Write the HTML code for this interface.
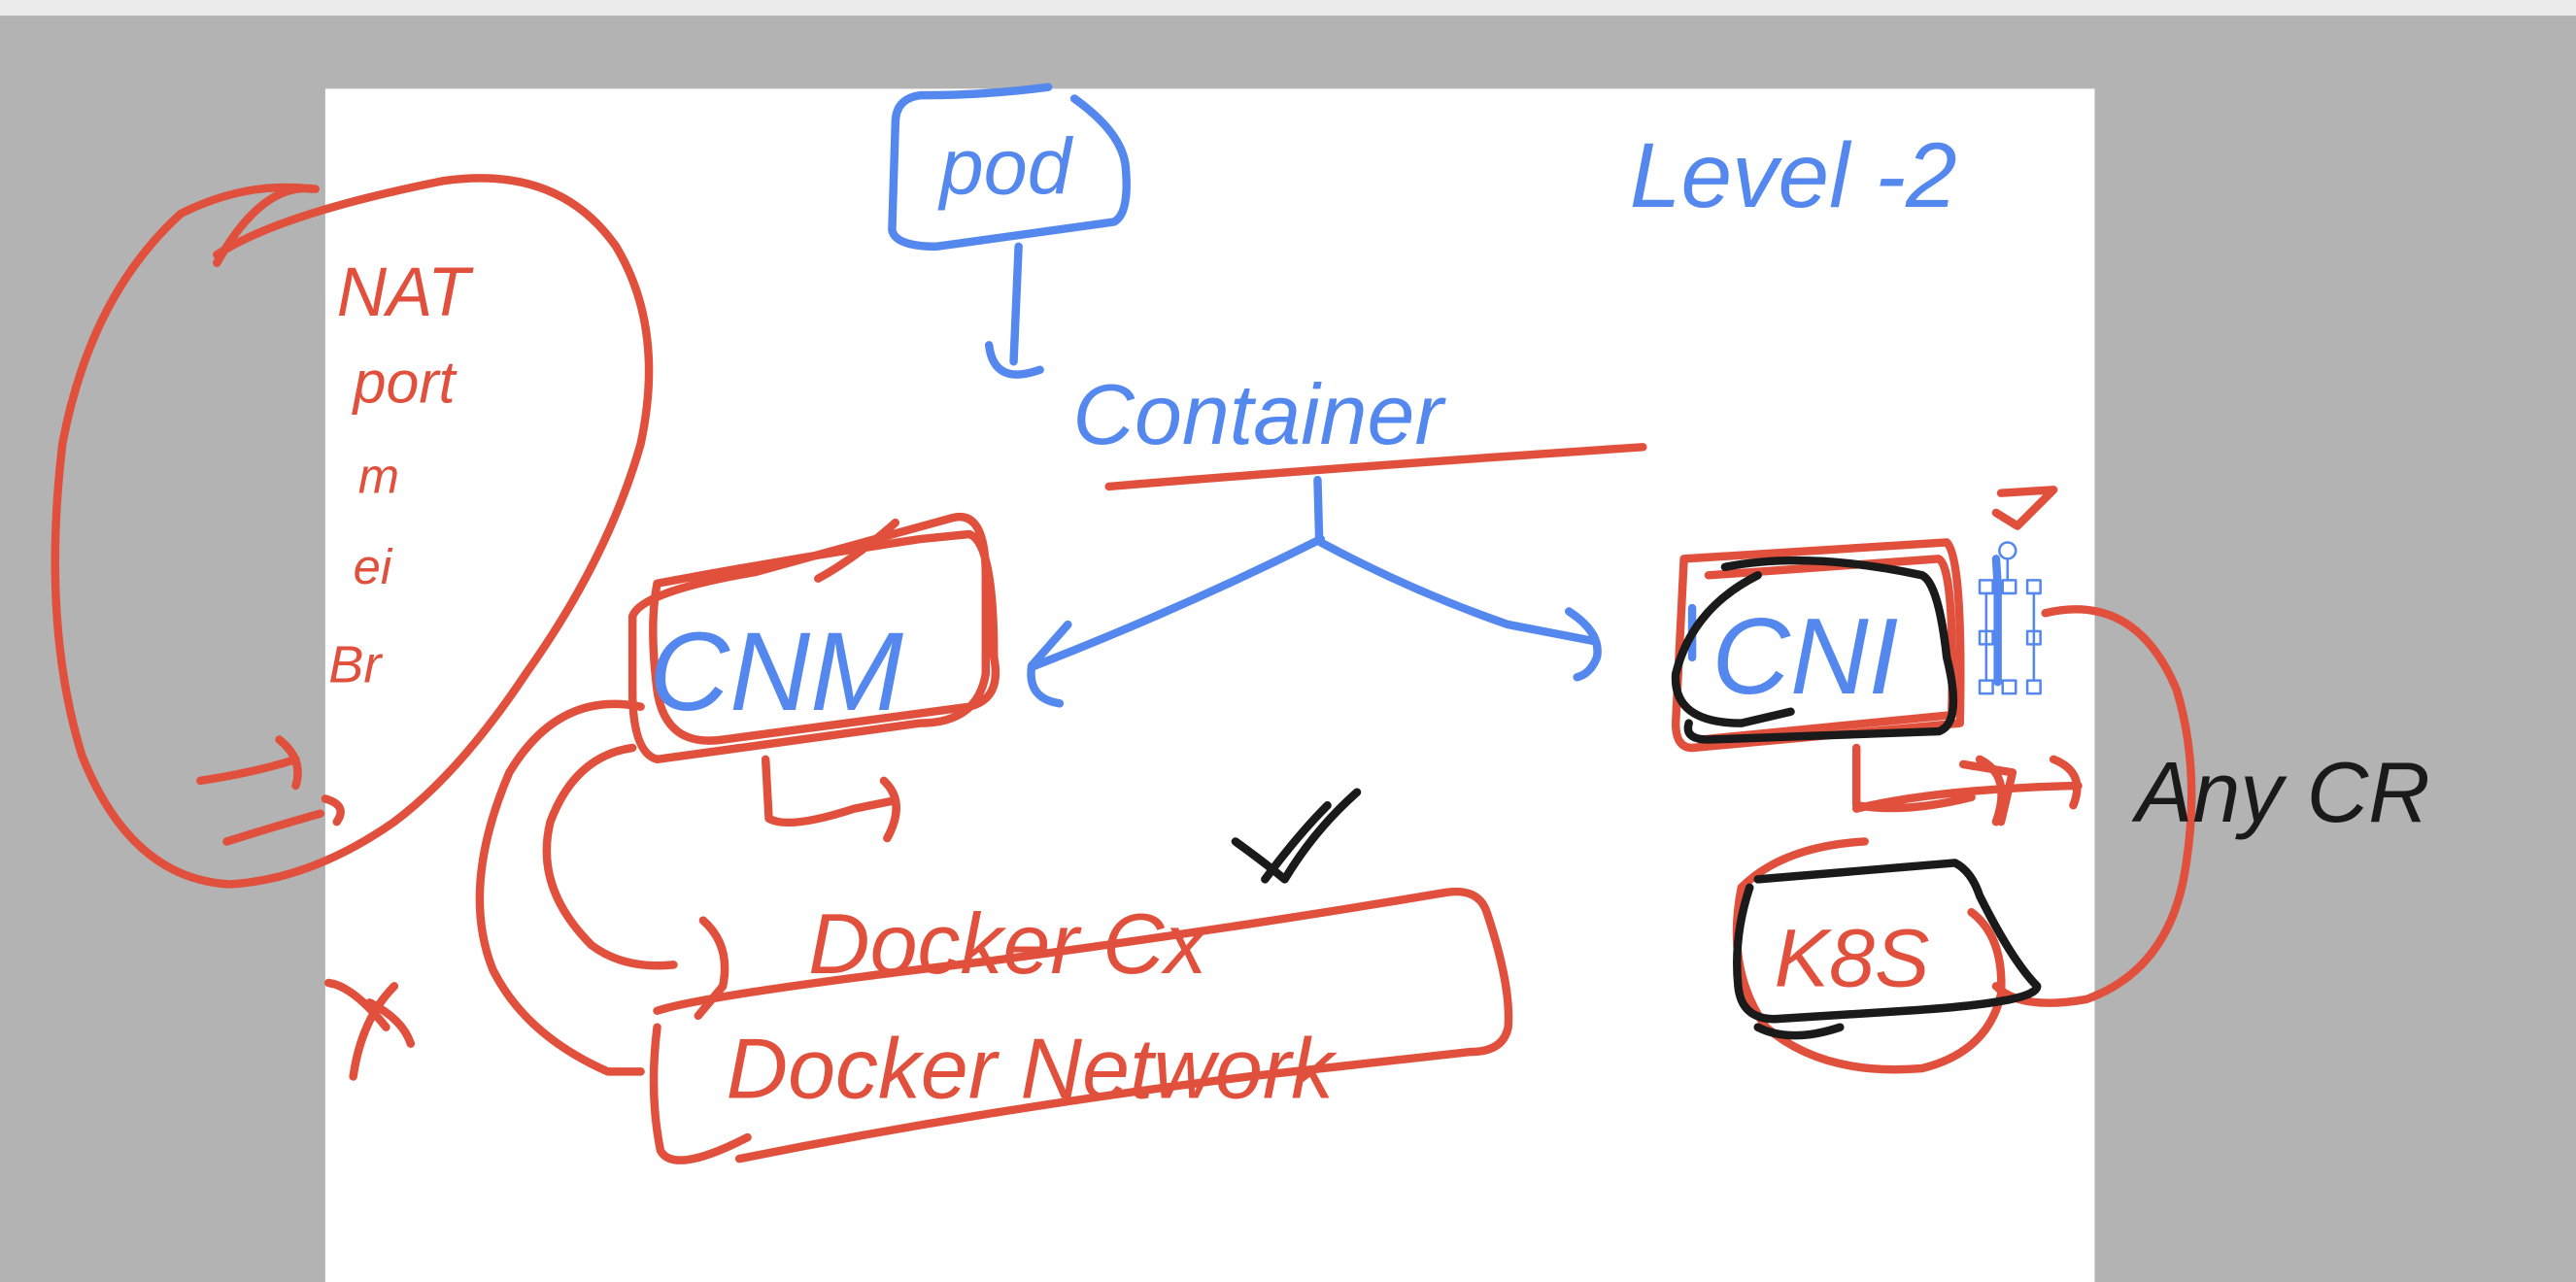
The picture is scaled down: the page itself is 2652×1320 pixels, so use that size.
<!DOCTYPE html>
<html><head><meta charset="utf-8"><style>
html,body{margin:0;padding:0;width:2652px;height:1320px;overflow:hidden;background:#b3b3b3}
svg{display:block}
text{font-family:"Liberation Sans",sans-serif}
</style></head><body>
<svg width="2652" height="1320" viewBox="0 0 1568 780" preserveAspectRatio="none">
<rect x="0" y="0" width="1568" height="9.5" fill="#ececec"/>
<rect x="198" y="54" width="1077" height="726" fill="#fff"/>
<g fill="none" stroke-linecap="round" stroke-linejoin="round" stroke-width="5">
<!-- blue -->
<g stroke="#5588ee">
<path d="M638 53 Q600 58 560 58 Q545 60 545 75 L543 140 Q545 150 570 150 L678 135 Q688 130 685 100 Q682 80 654 60"/>
<path d="M620 150 L617 220 M602 210 Q605 235 633 225"/>
<path d="M802 292 L803 328 M804 328 Q720 370 630 405 M650 380 L628 405 Q625 425 645 428 M804 330 Q860 360 918 380 L970 390 M955 372 Q975 385 972 400 Q968 410 960 412"/>
<path d="M1030 400 L1030 370 Q1030 395 1030 400"/>
<path d="M1216 356 L1216 415 M1215 340 L1216 356"/>
</g>
<g stroke="#5588ee" stroke-width="1.5">
<circle cx="1222" cy="335" r="5" fill="#fff"/>
<line x1="1222" y1="340" x2="1222" y2="357"/>
<rect x="1205" y="353" width="8" height="8" fill="#fff"/>
<rect x="1219" y="353" width="8" height="8" fill="#fff"/>
<rect x="1234" y="353" width="8" height="8" fill="#fff"/>
<rect x="1205" y="384" width="8" height="8" fill="#fff"/>
<rect x="1234" y="384" width="8" height="8" fill="#fff"/>
<rect x="1205" y="414" width="8" height="8" fill="#fff"/>
<rect x="1219" y="414" width="8" height="8" fill="#fff"/>
<rect x="1234" y="414" width="8" height="8" fill="#fff"/>
<line x1="1209" y1="361" x2="1209" y2="414"/><line x1="1238" y1="361" x2="1238" y2="414"/>
</g>
<!-- red -->
<g stroke="#e0503c">
<path d="M192 115 Q160 110 132 160 M132 155 Q170 130 270 110 Q340 100 375 150 Q405 200 390 270 Q370 340 320 410 Q280 470 240 500 Q190 535 140 538 Q80 535 50 460 Q25 380 38 270 Q55 180 110 130 Q150 110 190 115"/>
<path d="M122 475 Q155 470 180 462 M170 450 Q185 462 180 478 M138 512 Q170 502 195 495 M198 486 Q212 490 205 500"/>
<path d="M675 296 Q820 284 1000 272"/>
<path d="M400 355 Q480 340 560 328 L590 325 Q605 330 605 400 Q610 425 590 430 L440 450 Q405 455 400 420 Q395 380 400 355 Z"/>
<path d="M385 375 Q390 360 460 348 L580 315 Q600 310 600 350 L600 410 Q595 440 560 440 L400 462 Q385 458 385 420 Z"/>
<path d="M498 352 Q520 340 545 318"/>
<path d="M466 462 L468 498 Q480 505 520 492 L545 487 M538 475 Q552 488 540 510"/>
<path d="M390 430 Q340 420 310 470 Q280 540 300 590 Q320 630 370 652 L390 652"/>
<path d="M385 455 Q350 460 335 500 Q325 540 360 575 Q380 590 410 587 M428 560 Q445 575 440 600 L425 618"/>
<path d="M400 615 Q430 605 600 585 Q750 565 880 543 Q900 540 905 555 Q920 600 918 625 Q915 640 895 640 L760 655 Q600 675 450 705 M400 625 Q395 665 402 700 Q410 715 455 692"/>
<path d="M1025 340 L1185 330 Q1195 340 1193 440 L1030 455 Q1020 455 1020 440 L1025 340"/>
<path d="M1040 350 L1180 340 Q1190 345 1188 435 L1035 450"/>
<path d="M1218 300 L1250 298 M1215 312 L1228 320 L1250 298"/>
<path d="M1245 373 Q1300 360 1325 420 Q1340 470 1330 530 Q1320 590 1270 608 Q1230 615 1215 600"/>
<path d="M1130 455 L1130 490 Q1160 495 1200 485 M1205 462 Q1225 472 1215 500 M1250 462 Q1270 470 1262 490 M1130 492 Q1180 480 1265 478"/>
<path d="M1135 512 Q1085 515 1060 540 Q1050 590 1075 625 Q1110 655 1170 650 Q1210 640 1218 605 Q1220 570 1200 555"/>
<path d="M1195 465 L1225 470 L1218 500"/>
<path d="M200 598 Q215 600 235 625 M240 600 Q220 620 215 655 M225 610 Q245 620 250 635"/>
</g>
<!-- black -->
<g stroke="#1a1a1a">
<path d="M1050 345 Q1100 335 1170 350 Q1180 355 1185 400 Q1195 440 1180 445 L1040 450 Q1025 450 1028 440 M1070 350 Q1030 370 1020 410 Q1018 440 1060 440 L1090 433"/>
<path d="M1070 535 L1190 525 Q1200 530 1205 545 Q1225 585 1240 600 Q1240 610 1160 615 L1080 620 Q1060 620 1058 600 Q1055 570 1065 540 M1070 625 Q1090 635 1120 625"/>
<path d="M752 512 Q770 525 782 535 Q800 505 826 482 M770 535 Q790 508 808 490"/>
</g>
</g>
<!-- text -->
<g font-style="italic">
<text x="572" y="118" fill="#5588ee" font-size="48" font-family="Liberation Sans">pod</text>
<text x="992" y="126" fill="#5588ee" font-size="56">Level -2</text>
<text x="653" y="270" fill="#5588ee" font-size="52">Container</text>
<text x="395" y="432" fill="#5588ee" font-size="68">CNM</text>
<text x="1042" y="422" fill="#5588ee" font-size="66">CNI</text>
<text x="492" y="592" fill="#e0503c" font-size="52">Docker Cx</text>
<text x="442" y="668" fill="#e0503c" font-size="52">Docker Network</text>
<text x="1080" y="600" fill="#e0503c" font-size="50">K8S</text>
<text x="1300" y="500" fill="#1a1a1a" font-size="52">Any CR</text>
<text x="205" y="192" fill="#e0503c" font-size="42">NAT</text>
<text x="215" y="245" fill="#e0503c" font-size="36">port</text>
<text x="218" y="300" fill="#e0503c" font-size="30">m</text>
<text x="215" y="355" fill="#e0503c" font-size="30">ei</text>
<text x="200" y="415" fill="#e0503c" font-size="32">Br</text>
</g>
</svg>
</body></html>
